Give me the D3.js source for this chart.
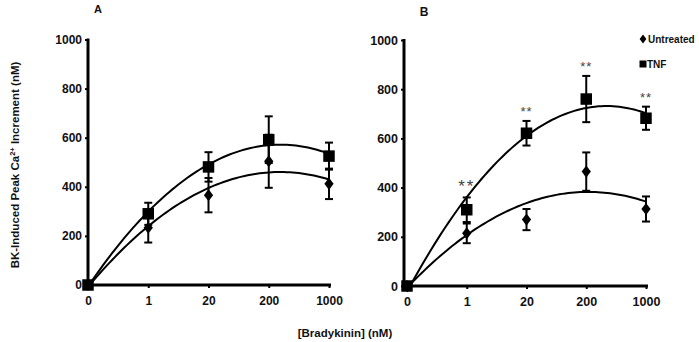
<!DOCTYPE html>
<html>
<head>
<meta charset="utf-8">
<script src="https://cdn.jsdelivr.net/npm/d3@7"></script>
<style>
  body { margin: 0; background: #fff; }
  svg text { font-family: "Liberation Sans", Arial, sans-serif; font-weight: bold; fill: #111; }
</style>
</head>
<body>
<div id="chart"></div>
<script>
// concentrations (nM), treated as evenly spaced categories
const categories = ['0', '1', '20', '200', '1000'];
const yTicks = [0, 200, 400, 600, 800, 1000];

// panel A
const untreatedA = [0, 233, 366, 504, 412];
const untreatedErrA = [0, 60, 70, 108, 62];
const tnfA = [0, 290, 481, 592, 525];
const tnfErrA = [0, 45, 60, 95, 55];

// panel B
const untreatedB = [0, 214, 270, 465, 313];
const untreatedErrB = [0, 40, 43, 78, 51];
const tnfB = [0, 310, 621, 760, 682];
const tnfErrB = [0, 50, 50, 94, 47];
const starsB = ['', '**', '**', '**', '**'];

const legendLabels = ['Untreated', 'TNF'];

const width = 699, height = 342;

const svg = d3.select('#chart').append('svg')
    .attr('width', width).attr('height', height);

// custom marker shapes
const diamond = {
    draw(ctx, size){
        let w = size * 0.42, h = size * 0.55;
        ctx.moveTo(0, -h); ctx.lineTo(w, 0); ctx.lineTo(0, h); ctx.lineTo(-w, 0); ctx.closePath();
    }
};
const square = {
    draw(ctx, size){
        let s = size / 2;
        ctx.rect(-s, -s, size, size);
    }
};

// Excel style 2nd order polynomial trendline on category index
function quadFit(vals){
    let n = vals.length, mid = (n - 1) / 2;
    let t = vals.map((v, i) => i - mid);
    let t2mean = d3.mean(t, d => d * d);
    let ymean = d3.mean(vals);
    let b = d3.sum(vals, (v, i) => t[i] * v) / d3.sum(t, d => d * d);
    let c = d3.sum(vals, (v, i) => (t[i] * t[i] - t2mean) * v) / d3.sum(t, d => (d * d - t2mean) ** 2);
    let a = ymean - c * t2mean;
    return x => a + b * (x - mid) + c * (x - mid) * (x - mid);
}

function drawPanel(cfg){
    let g = svg.append('g');
    let scaleX = d3.scalePoint(categories, cfg.rangeX);
    let scaleIdx = d3.scaleLinear([0, categories.length - 1], cfg.rangeX);
    let scaleY = d3.scaleLinear([0, 1000], cfg.rangeY);

    // axes
    let axisY = g.append('g')
        .attr('transform', `translate(${cfg.axisX},0)`)
        .call(d3.axisLeft(scaleY).tickValues(yTicks).tickFormat(d3.format('d'))
            .tickSize(3).tickPadding(3).tickSizeOuter(0));
    axisY.select('.domain').attr('stroke-width', 3).attr('d', `M0,${cfg.rangeY[1] - 1}V${cfg.rangeY[0] + 1.5}`);
    axisY.selectAll('.tick line').attr('stroke-width', 2);
    axisY.selectAll('text').style('font-size', cfg.font + 'px');

    let axisX = g.append('g')
        .attr('transform', `translate(0,${cfg.rangeY[0]})`)
        .call(d3.axisBottom(scaleX).tickSize(3).tickPadding(8).tickSizeOuter(0));
    axisX.select('.domain').attr('stroke-width', 3).attr('d', `M${cfg.axisX - 1.5},0H${cfg.rangeX[1] + 2}`);
    axisX.selectAll('.tick line').attr('stroke-width', 2);
    axisX.selectAll('text').style('font-size', cfg.font + 'px');
    g.selectAll('.domain, .tick line').attr('stroke', '#000');

    // trendlines
    let line = d3.line().x(d => scaleIdx(d[0])).y(d => scaleY(d[1]));
    [cfg.tnf, cfg.untreated].forEach(vals => {
        let f = quadFit(vals);
        let pts = d3.range(0, 4.001, 0.05).map(x => [x, f(x)]);
        g.append('path').attr('d', line(pts))
            .attr('fill', 'none').attr('stroke', '#000').attr('stroke-width', 2);
    });

    // series
    let series = [
        {vals: cfg.untreated, err: cfg.untreatedErr, shape: diamond, size: 11},
        {vals: cfg.tnf, err: cfg.tnfErr, shape: square, size: 11.5}
    ];
    series.forEach(s => {
        let pts = s.vals.map((v, i) => ({c: categories[i], v: v, e: s.err[i]}));
        let eb = g.append('g').selectAll('g.err').data(pts.filter(d => d.e > 0)).join('g')
            .attr('stroke', '#000').attr('stroke-width', 2);
        eb.append('line')
            .attr('x1', d => scaleX(d.c)).attr('x2', d => scaleX(d.c))
            .attr('y1', d => scaleY(d.v - d.e)).attr('y2', d => scaleY(d.v + d.e));
        eb.selectAll('line.cap').data(d => [[d.c, d.v - d.e], [d.c, d.v + d.e]]).join('line')
            .classed('cap', true)
            .attr('x1', d => scaleX(d[0]) - 4).attr('x2', d => scaleX(d[0]) + 4)
            .attr('y1', d => scaleY(d[1])).attr('y2', d => scaleY(d[1]));
        g.append('g').selectAll('path').data(pts).join('path')
            .attr('transform', d => `translate(${scaleX(d.c)},${scaleY(d.v)})`)
            .attr('d', d3.symbol(s.shape, s.size))
            .attr('fill', '#000');
    });

    // significance marks
    if(cfg.stars){
        g.append('g').selectAll('text').data(cfg.stars.map((s, i) => ({s, c: categories[i], top: cfg.tnf[i] + cfg.tnfErr[i]})))
            .join('text')
            .attr('x', d => scaleX(d.c)).attr('y', d => scaleY(d.top) - 5)
            .attr('text-anchor', 'middle')
            .style('font-weight', 'normal').style('fill', '#444')
            .style('font-size', (d, i) => i === 1 ? '17px' : '13px')
            .style('letter-spacing', (d, i) => i === 1 ? '2px' : '1px')
            .text(d => d.s);
    }

    g.append('text').attr('x', cfg.label[1]).attr('y', cfg.label[2])
        .attr('text-anchor', 'middle').style('font-size', cfg.label[3] + 'px').text(cfg.label[0]);
}

drawPanel({
    axisX: 88, rangeX: [88, 329], rangeY: [285, 39.5], font: 12,
    untreated: untreatedA, untreatedErr: untreatedErrA, tnf: tnfA, tnfErr: tnfErrA,
    label: ['A', 98, 13, 11]
});
drawPanel({
    axisX: 404, rangeX: [407, 646], rangeY: [286, 40], font: 12.5,
    untreated: untreatedB, untreatedErr: untreatedErrB, tnf: tnfB, tnfErr: tnfErrB,
    stars: starsB, label: ['B', 424, 16, 12]
});

// legend
let legend = svg.append('g').attr('transform', 'translate(643,39)');
legend.selectAll('path').data([diamond, square]).join('path')
    .attr('transform', (d, i) => `translate(0,${i * 25})`)
    .attr('d', (d, i) => d3.symbol(d, i === 0 ? 8 : 7)())
    .attr('fill', '#000');
legend.selectAll('text').data(legendLabels).join('text')
    .attr('x', (d, i) => i === 0 ? 5 : 4).attr('y', (d, i) => i * 25 + 3.5)
    .style('font-size', '10px').text(d => d);

// axis titles
let yTitle = svg.append('text')
    .attr('transform', 'translate(19,165)rotate(-90)')
    .attr('text-anchor', 'middle').style('font-size', '11.5px');
yTitle.append('tspan').text('BK-Induced Peak Ca');
yTitle.append('tspan').attr('dy', -4).style('font-size', '7.5px').text('2+');
yTitle.append('tspan').attr('dy', 4).text(' Increment (nM)');

svg.append('text')
    .attr('x', 345).attr('y', 337)
    .attr('text-anchor', 'middle').style('font-size', '11.5px')
    .text('[Bradykinin] (nM)');
</script>
</body>
</html>
